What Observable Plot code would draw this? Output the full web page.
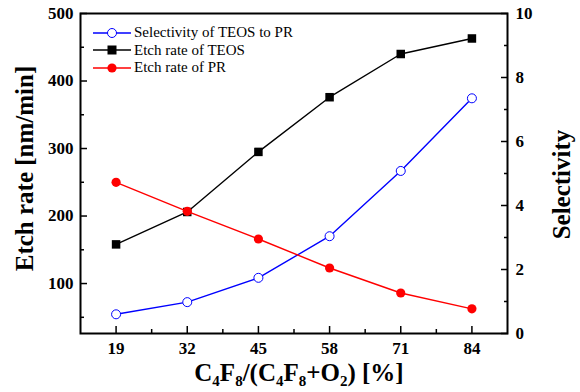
<!DOCTYPE html>
<html><head><meta charset="utf-8">
<script src="https://cdn.jsdelivr.net/npm/d3@7"></script>
<script src="https://cdn.jsdelivr.net/npm/@observablehq/plot@0.6"></script>
<style>
body{margin:0;background:#fff;}
#wrap{position:relative;width:580px;height:392px;font-family:"Liberation Serif","Times New Roman",serif;color:#000;}
#xtitle{position:absolute;left:0;width:580px;text-align:center;padding-left:18px;box-sizing:border-box;top:359px;font-weight:bold;font-size:25px;line-height:28px;white-space:nowrap;}
#xtitle sub{font-size:15px;vertical-align:-5px;line-height:0;}
#legend{position:absolute;left:93px;top:24px;font-size:15px;line-height:17.5px;font-family:"Liberation Serif","Times New Roman",serif;}
#legend .row{display:flex;align-items:center;height:17.5px;}
#legend svg{margin-right:3px;}
</style></head><body><div id="wrap"></div>
<script>
// ---- data ----
const ratio = [19, 32, 45, 58, 71, 84];                 // C4F8/(C4F8+O2) [%]
const teosRate = [158, 206, 295, 376, 440, 463];       // Etch rate of TEOS [nm/min]
const prRate = [250, 207, 166, 123, 86, 62.5];         // Etch rate of PR [nm/min]
const selectivity = [0.60, 0.98, 1.74, 3.04, 5.08, 7.35]; // Selectivity of TEOS to PR
const xTicks = [19, 32, 45, 58, 71, 84];
const xMinor = [25.5, 38.5, 51.5, 64.5, 77.5];
const leftTicks = [100, 200, 300, 400, 500];
const leftMinor = [50, 150, 250, 350, 450];
const rightTicks = [0, 2, 4, 6, 8, 10];
const rightMinor = [1, 3, 5, 7, 9];
const seriesNames = ["Selectivity of TEOS to PR", "Etch rate of TEOS", "Etch rate of PR"];
const seriesColors = ["#0000ff", "#000000", "#ff0000"];

const leftDomain = [26, 500];
const rightDomain = [0, 10];
const toLeft = s => leftDomain[0] + (s - rightDomain[0]) / (rightDomain[1] - rightDomain[0]) * (leftDomain[1] - leftDomain[0]);
const fromLeft = v => rightDomain[0] + (v - leftDomain[0]) / (leftDomain[1] - leftDomain[0]) * (rightDomain[1] - rightDomain[0]);

const rows = ratio.map((x, i) => ({x, teos: teosRate[i], pr: prRate[i], sel: toLeft(selectivity[i])}));

const tickFont = {fontSize: 17, fontWeight: "bold", fontFamily: '"Liberation Serif", "Times New Roman", serif'};

const chart = Plot.plot({
  width: 580, height: 392,
  marginLeft: 80, marginRight: 73, marginTop: 13, marginBottom: 59,
  style: {fontFamily: '"Liberation Serif", "Times New Roman", serif', background: "#fff", color: "#000"},
  x: {domain: [12.5, 90.5], label: null},
  y: {domain: leftDomain, label: null},
  marks: [
    Plot.line(rows, {x: "x", y: "teos", stroke: seriesColors[1], strokeWidth: 1.4}),
    Plot.dot(rows, {x: "x", y: "teos", symbol: "square", r: 4.8, fill: seriesColors[1], stroke: "none"}),
    Plot.line(rows, {x: "x", y: "sel", stroke: seriesColors[0], strokeWidth: 1.4}),
    Plot.dot(rows, {x: "x", y: "sel", r: 4.5, fill: "#fff", stroke: seriesColors[0], strokeWidth: 1}),
    Plot.line(rows, {x: "x", y: "pr", stroke: seriesColors[2], strokeWidth: 1.4}),
    Plot.dot(rows, {x: "x", y: "pr", r: 4.6, fill: seriesColors[2], stroke: "none"}),
    Plot.frame({stroke: "#000", strokeWidth: 2}),
    Plot.axisX(xTicks, {tickSize: -7, tickPadding: 15, strokeWidth: 1.5, label: null, ...tickFont}),
    Plot.axisX(xMinor, {tickSize: -4, tickFormat: () => "", strokeWidth: 1.5, label: null}),
    Plot.axisY(leftTicks, {anchor: "left", tickSize: -7, tickPadding: 14, strokeWidth: 1.5, label: null, ...tickFont}),
    Plot.axisY(leftMinor, {anchor: "left", tickSize: -4, tickFormat: () => "", strokeWidth: 1.5, label: null}),
    Plot.axisY(rightTicks.map(toLeft), {anchor: "right", tickSize: -7, tickPadding: 15, strokeWidth: 1.5, label: null,
      tickFormat: v => String(Math.round(fromLeft(v) * 100) / 100), ...tickFont}),
    Plot.axisY(rightMinor.map(toLeft), {anchor: "right", tickSize: -4, tickFormat: () => "", strokeWidth: 1.5, label: null}),
    Plot.text(["Etch rate [nm/min]"], {frameAnchor: "left", textAnchor: "middle", lineAnchor: "middle", text: d => d, rotate: -90, dx: -56, dy: -5, fontSize: 25, fontWeight: "bold"}),
    Plot.text(["Selectivity"], {frameAnchor: "right", textAnchor: "middle", lineAnchor: "middle", text: d => d, rotate: -90, dx: 54, dy: 11, fontSize: 25, fontWeight: "bold"})
  ]
});

const wrap = document.getElementById("wrap");
wrap.appendChild(chart);

// x-axis title with subscripts
const xt = document.createElement("div");
xt.id = "xtitle";
xt.innerHTML = "C<sub>4</sub>F<sub>8</sub>/(C<sub>4</sub>F<sub>8</sub>+O<sub>2</sub>) [%]";
wrap.appendChild(xt);

// legend
const lg = document.createElement("div");
lg.id = "legend";
const markers = [
  c => `<circle cx="19" cy="8" r="4.5" fill="#fff" stroke="${c}" stroke-width="1"/>`,
  c => `<rect x="14.5" y="3.5" width="9" height="9" fill="${c}"/>`,
  c => `<circle cx="19" cy="8" r="4.6" fill="${c}"/>`
];
seriesNames.forEach((name, i) => {
  const c = seriesColors[i];
  const row = document.createElement("div");
  row.className = "row";
  row.innerHTML = `<svg width="38" height="16"><line x1="0" y1="8" x2="38" y2="8" stroke="${c}" stroke-width="1.4"/>${markers[i](c)}</svg><span>${name}</span>`;
  lg.appendChild(row);
});
wrap.appendChild(lg);
</script>
</body></html>
